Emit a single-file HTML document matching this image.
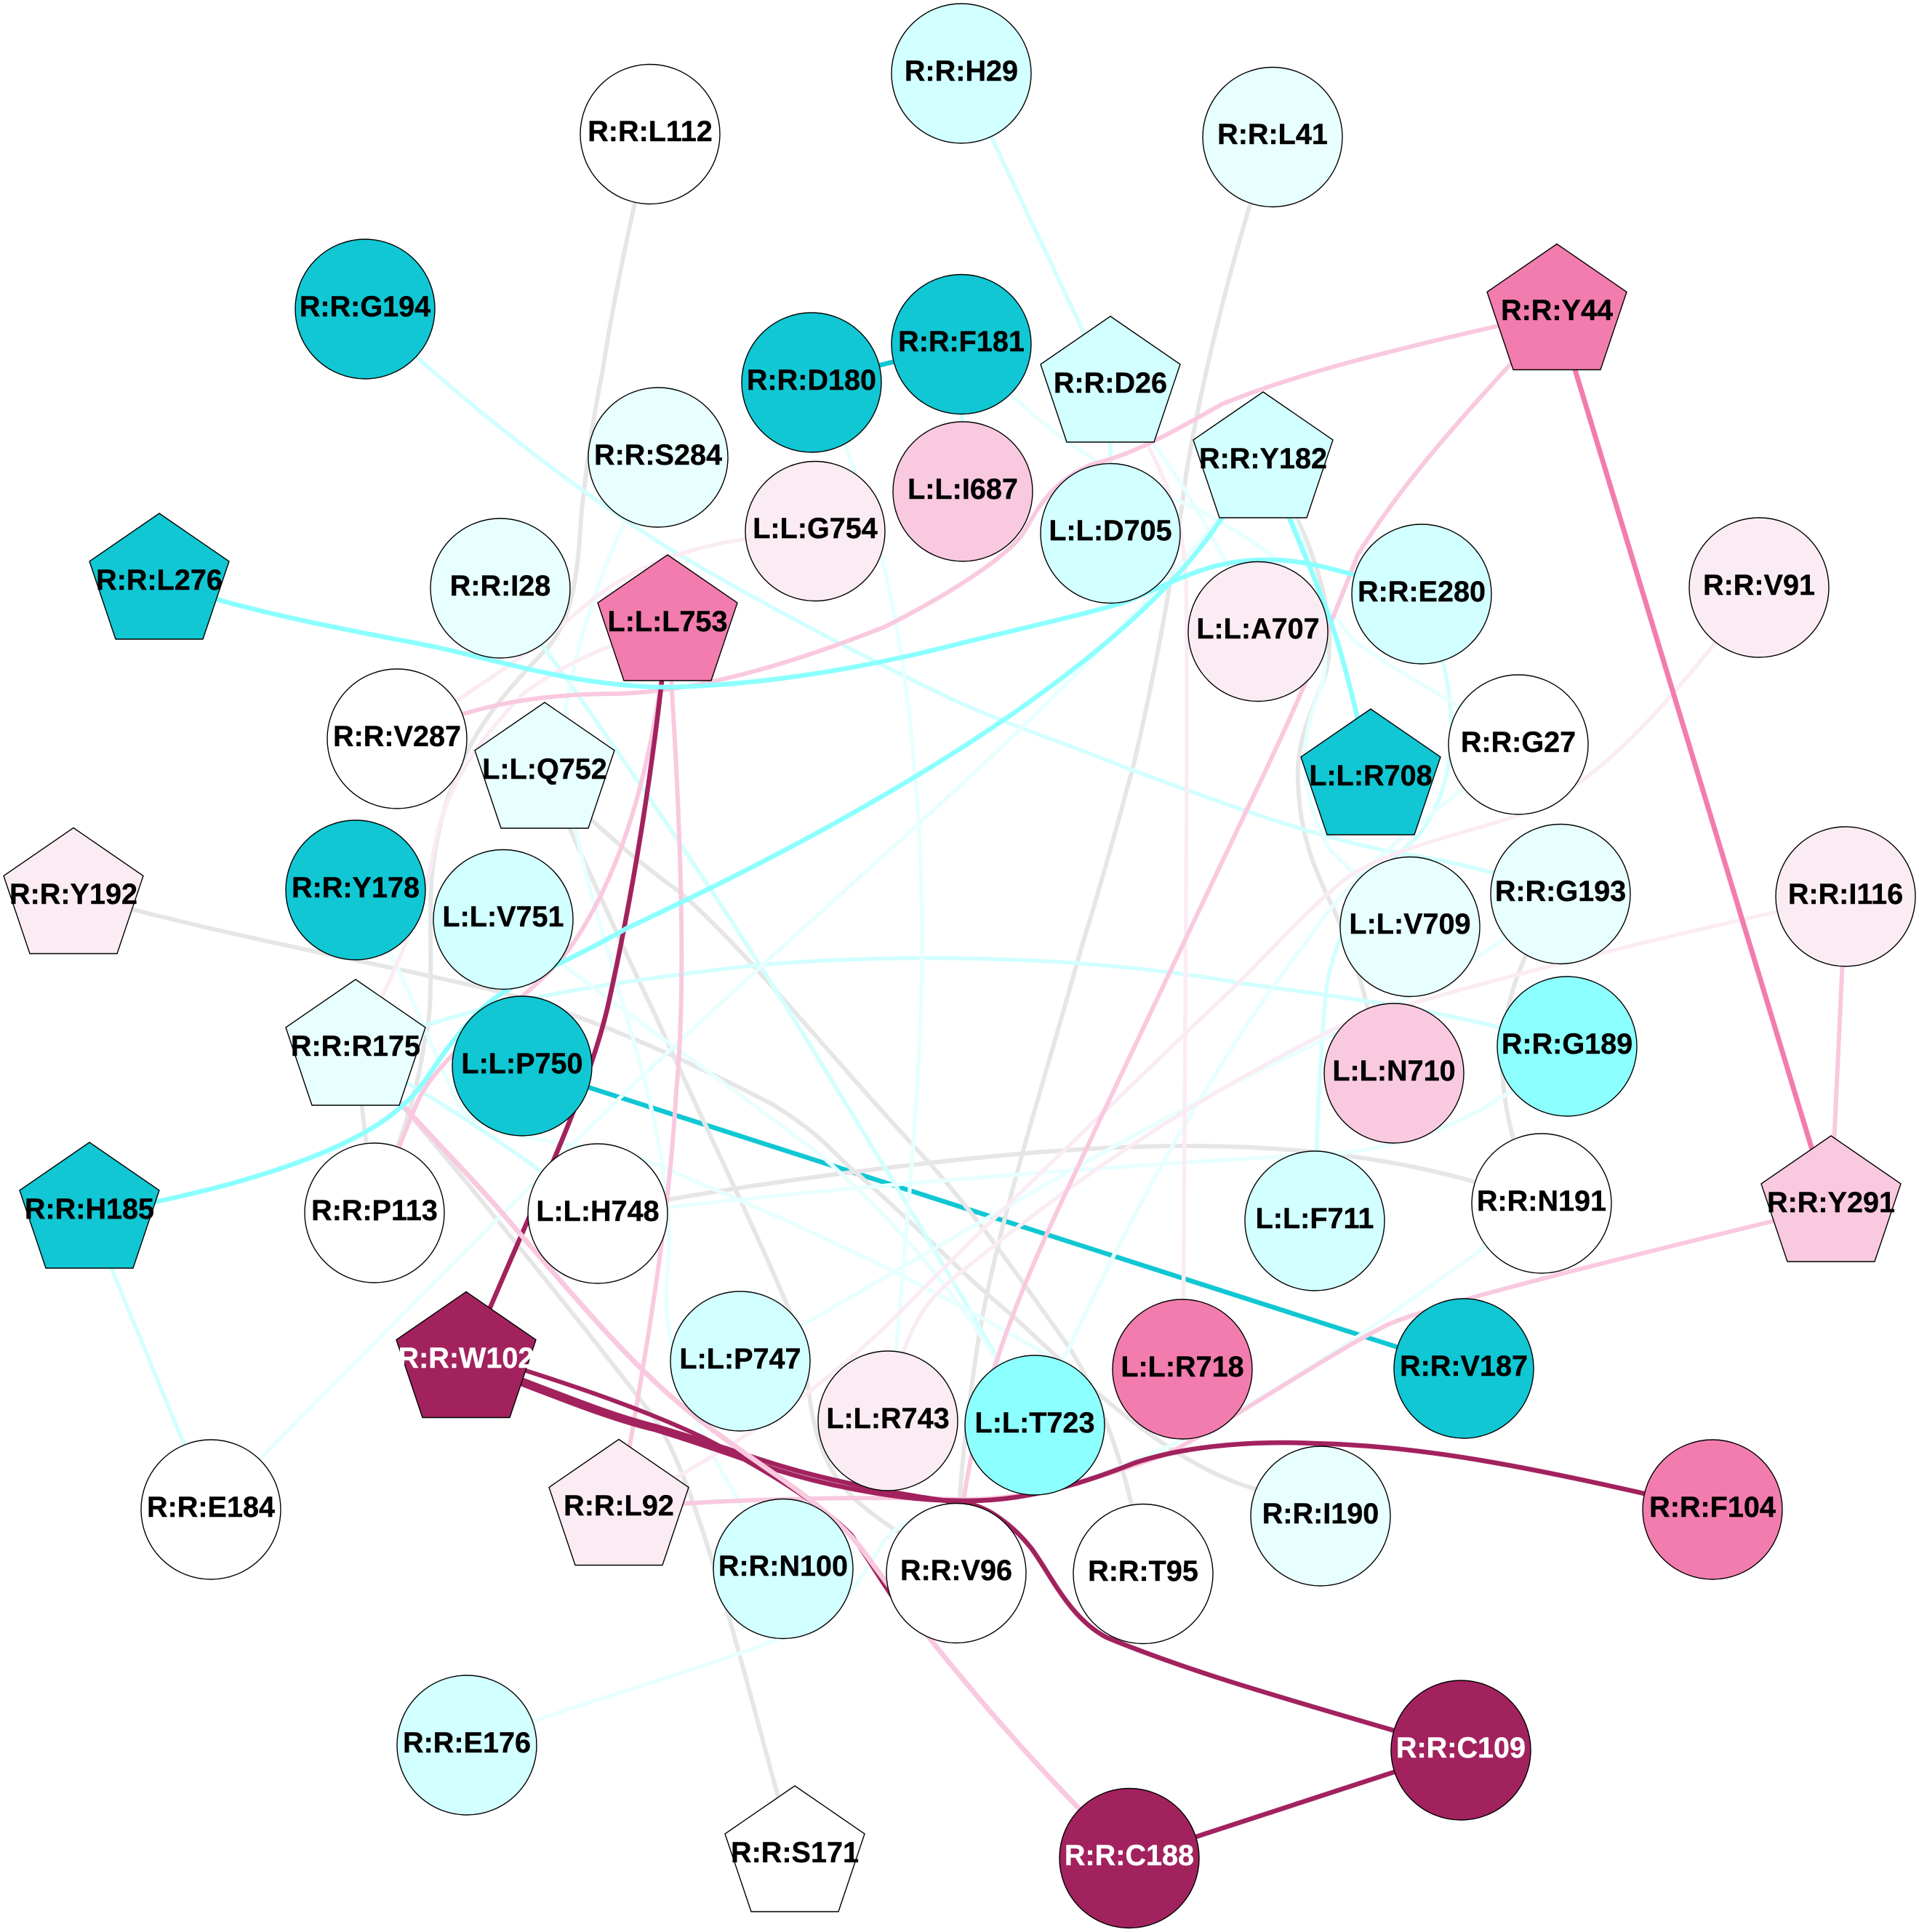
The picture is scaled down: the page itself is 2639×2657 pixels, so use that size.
<!DOCTYPE html>
<html><head><meta charset="utf-8"><style>
html,body{margin:0;padding:0;background:#fff}
svg{display:block}
text{font-family:"Liberation Sans",sans-serif;font-weight:700;font-size:39.6px;text-anchor:middle;fill:#000;stroke:#000;stroke-width:.4}
text.w{fill:#fff;stroke:#fff}
.n{stroke:#000;stroke-width:1.4}
path{fill:none;stroke-linecap:butt}
.gr{stroke:#E6E6E6;stroke-width:6}
.pc{stroke:#E8FFFF;stroke-width:5.5}
.lc{stroke:#D2FFFF;stroke-width:5.5}
.aq{stroke:#8CFFFF;stroke-width:6.5}
.te{stroke:#10C7D3;stroke-width:6.5}
.pp{stroke:#FBECF4;stroke-width:5.5}
.lp{stroke:#F9C9DF;stroke-width:6}
.mp{stroke:#F27CAD;stroke-width:7}
.dk{stroke:#A2225E;stroke-width:6.5}
</style></head><body>
<svg width="2639" height="2657" viewBox="0 0 2639 2657" xmlns="http://www.w3.org/2000/svg">
<rect width="2639" height="2657" fill="#fff"/>
<g>
<path class="te" d="M718,1466L2013,1882"/>
<path class="te" d="M1116,526L1322,474"/>
<path class="gr" d="M894,184C875,270 845,400 829,509C810,600 803,680 800,700C795,780 790,850 752,892C710,935 665,985 640,1039C610,1100 592,1170 592,1250C592,1330 595,1400 583,1436C575,1500 555,1555 515,1668"/>
<path class="gr" d="M1750,188C1710,300 1660,480 1631,653C1615,780 1590,920 1559,1051C1530,1160 1510,1230 1488,1300C1430,1510 1360,1720 1340,1880C1325,1980 1318,2060 1315,2163"/>
<path class="gr" d="M1737,645C1750,670 1770,690 1784,714C1815,780 1838,860 1824,923C1810,970 1782,1010 1785,1075C1787,1150 1810,1200 1834,1250C1855,1300 1870,1340 1880,1383L1917,1476"/>
<path class="gr" d="M822,1669C950,1640 1200,1605 1400,1587C1650,1565 1850,1575 2027,1625L2120,1655"/>
<path class="gr" d="M2146,1229C2080,1330 2040,1430 2085,1580L2120,1655"/>
<path class="gr" d="M101,1229C300,1285 520,1325 666,1359C780,1385 930,1450 1061,1518C1130,1560 1150,1590 1175,1611C1250,1675 1320,1750 1393,1810C1480,1890 1600,2010 1721,2046L1816,2085"/>
<path class="gr" d="M749,1060C800,1120 870,1180 935,1227C1030,1310 1130,1440 1275,1596C1350,1680 1400,1755 1466,1847C1510,1910 1560,2040 1572,2164"/>
<path class="gr" d="M749,1060C770,1110 850,1290 903,1400C960,1530 1030,1670 1089,1810C1120,1880 1100,1950 1150,2032C1180,2075 1220,2095 1315,2163"/>
<path class="gr" d="M489,1448C600,1570 800,1820 900,1950C960,2040 1020,2290 1093,2556"/>
<path class="gr" d="M489,1448L515,1668"/>
<path class="lc" d="M1322,101L1527,535"/>
<path class="lc" d="M1527,535V733"/>
<path class="lc" d="M1322,474L1324,676"/>
<path class="lc" d="M502,425C600,520 760,655 926,758C1030,820 1170,895 1304,959C1380,995 1460,1020 1549,1056C1700,1112 1820,1155 1924,1173C2000,1185 2080,1205 2146,1229"/>
<path class="lc" d="M489,1448C620,1385 800,1355 1043,1327C1250,1310 1500,1315 1706,1352C1850,1372 2000,1390 2155,1439"/>
<path class="lc" d="M123,1671L290,2076"/>
<path class="lc" d="M688,809C780,930 960,1190 1091,1400C1220,1610 1330,1790 1423,1960"/>
<path class="lc" d="M1955,817C2000,930 2020,1060 1950,1150C1880,1210 1830,1290 1823,1370C1815,1460 1810,1570 1808,1679"/>
<path class="lc" d="M489,1448C570,1495 660,1545 822,1669"/>
<path class="pc" d="M642,2400C800,2340 1000,2285 1079,2250C1160,2225 1190,2160 1215,2120C1250,2075 1340,2060 1400,2058C1550,2030 1700,1950 1869,1837C1950,1780 2040,1720 2120,1655"/>
<path class="pc" d="M1116,526C1190,640 1240,830 1258,1061C1266,1150 1268,1230 1268,1300C1268,1480 1245,1700 1232,1860"/>
<path class="pc" d="M905,629C850,720 790,870 775,1000C775,1120 820,1250 858,1386C890,1490 930,1640 918,1750C905,1860 960,1990 1077,2157"/>
<path class="pc" d="M1322,474C1420,580 1500,640 1600,680C1700,720 1800,790 1860,880C1930,930 2010,970 2088,1024"/>
<path class="pc" d="M1527,535C1600,620 1660,710 1730,868"/>
<path class="pc" d="M1737,645C1800,720 1840,880 1815,950C1790,1010 1780,1080 1830,1170L1939,1274"/>
<path class="pc" d="M2088,1024C1990,1110 1880,1170 1800,1290C1700,1420 1560,1640 1423,1960"/>
<path class="pc" d="M2146,1229C2050,1320 1900,1390 1800,1440C1600,1530 1350,1680 1018,1872"/>
<path class="pc" d="M2155,1439C2080,1510 1980,1570 1850,1585C1600,1600 1200,1625 822,1672"/>
<path class="pc" d="M290,2076C500,1860 740,1620 848,1514C1050,1320 1250,1150 1406,1000C1520,890 1620,780 1737,645"/>
<path class="pc" d="M692,1264C800,1350 1000,1490 1129,1589C1220,1670 1320,1770 1423,1960"/>
<path class="pc" d="M489,1224C560,1340 590,1440 634,1525C680,1570 770,1565 891,1596C1060,1670 1240,1740 1500,1900"/>
<path class="pp" d="M489,1448C520,1380 580,1270 598,1162C612,1090 650,1025 720,954C770,915 840,885 918,860"/>
<path class="pp" d="M546,1016C650,950 720,905 790,845C860,785 930,745 1121,730"/>
<path class="pp" d="M1527,535C1570,590 1625,680 1631,790C1634,1000 1630,1300 1627,1883"/>
<path class="pp" d="M2419,808C2300,960 2200,1085 2080,1124C2000,1150 1920,1165 1857,1204C1800,1245 1730,1330 1652,1400C1560,1490 1400,1640 1221,1821C1150,1890 1050,1970 851,2075"/>
<path class="pp" d="M2538,1233C2300,1285 2050,1345 1849,1408C1640,1510 1480,1620 1321,1750C1270,1790 1240,1830 1221,1954"/>
<path class="lp" d="M546,1016C640,975 720,954 850,954C980,950 1120,900 1217,862C1300,820 1380,770 1406,735C1425,705 1440,665 1503,638C1560,625 1620,590 1680,556C1780,515 1900,485 2061,448L2141,430"/>
<path class="lp" d="M2141,433L2078,500C2000,585 1925,670 1867,763C1830,860 1780,980 1714,1115C1650,1250 1590,1375 1512,1541C1430,1720 1330,1900 1315,2163"/>
<path class="lp" d="M851,2075C1000,2060 1200,2058 1320,2062C1400,2062 1470,2048 1604,2000C1700,1950 1830,1860 1910,1821C1970,1795 2200,1737 2518,1660"/>
<path class="lp" d="M2538,1233L2518,1660"/>
<path class="lp" d="M918,860C935,1100 945,1350 930,1500C920,1680 890,1850 851,2075"/>
<path class="lp" d="M918,860C905,1000 870,1190 776,1314C700,1400 620,1430 576,1511C555,1560 540,1600 515,1668"/>
<path class="mp" d="M2143,433L2516,1660"/>
<path class="dk" d="M918,860C900,1050 870,1230 837,1379C810,1500 740,1640 641,1876"/>
<path class="dk" d="M641,1874C760,1919 830,1949 900,1966C1000,1996 1060,2024 1150,2043C1220,2058 1270,2064 1330,2064C1400,2064 1470,2048 1560,2012C1640,1985 1740,1982 1808,1985C1950,1988 2100,2015 2355,2076"/>
<path class="dk" d="M641,1868C760,1913 830,1943 900,1961C1000,1990 1060,2016 1150,2036C1220,2052 1270,2060 1330,2068C1360,2072 1395,2100 1418,2129C1445,2165 1470,2225 1522,2252C1650,2305 1800,2345 2009,2407"/>
<path class="dk" d="M641,1860C760,1895 880,1935 971,1979C1060,2025 1130,2070 1171,2111C1195,2145 1215,2180 1250,2230" style="stroke-width:6"/>
<path class="lp" d="M489,1448C560,1530 640,1610 687,1664C770,1760 860,1870 940,1935C1030,2010 1130,2060 1185,2130C1250,2220 1380,2390 1553,2556" style="stroke-width:7"/>
<path class="dk" d="M2009,2407L1553,2556"/>
<path class="aq" d="M219,800C350,845 500,870 600,890C700,912 800,945 921,945C1060,942 1200,915 1300,890C1400,865 1480,848 1544,829C1620,800 1660,768 1750,770C1800,770 1860,790 1955,817"/>
<path class="aq" d="M1737,640L1679,714C1570,880 1295,1075 863,1276C760,1335 700,1350 660,1390C600,1450 590,1490 555,1519C480,1590 300,1640 123,1670"/>
<path class="aq" d="M1745,645C1780,730 1820,820 1840,885C1855,935 1870,1000 1885,1065"/>
</g>
<g class="n">
<circle cx="1322" cy="101" r="96" fill="#D2FFFF"/>
<circle cx="894" cy="184.5" r="96" fill="#FFFFFF"/>
<circle cx="1750" cy="188.5" r="96" fill="#E8FFFF"/>
<circle cx="502" cy="425" r="96" fill="#10C7D3"/>
<circle cx="1322" cy="473.5" r="96" fill="#10C7D3"/>
<circle cx="1116" cy="526" r="96" fill="#10C7D3"/>
<circle cx="905" cy="629" r="96" fill="#E8FFFF"/>
<circle cx="1324" cy="676" r="96" fill="#F9C9DF"/>
<circle cx="1121" cy="730.5" r="96" fill="#FBECF4"/>
<circle cx="1527" cy="733.5" r="96" fill="#D2FFFF"/>
<circle cx="688" cy="809" r="96" fill="#E8FFFF"/>
<circle cx="2419" cy="808" r="96" fill="#FBECF4"/>
<circle cx="1955" cy="817" r="96" fill="#D2FFFF"/>
<circle cx="1730" cy="868.5" r="96" fill="#FBECF4"/>
<circle cx="546" cy="1016" r="96" fill="#FFFFFF"/>
<circle cx="2088" cy="1024" r="96" fill="#FFFFFF"/>
<circle cx="489" cy="1224" r="96" fill="#10C7D3"/>
<circle cx="2146" cy="1229.5" r="96" fill="#E8FFFF"/>
<circle cx="2538" cy="1233" r="96" fill="#FBECF4"/>
<circle cx="692" cy="1264.5" r="96" fill="#D2FFFF"/>
<circle cx="1939" cy="1274.5" r="96" fill="#E8FFFF"/>
<circle cx="2155" cy="1439" r="96" fill="#8CFFFF"/>
<circle cx="718" cy="1466" r="96" fill="#10C7D3"/>
<circle cx="1917" cy="1476" r="96" fill="#F9C9DF"/>
<circle cx="2120" cy="1655" r="96" fill="#FFFFFF"/>
<circle cx="515" cy="1668" r="96" fill="#FFFFFF"/>
<circle cx="822" cy="1669" r="96" fill="#FFFFFF"/>
<circle cx="1808" cy="1679" r="96" fill="#D2FFFF"/>
<circle cx="1018" cy="1872" r="96" fill="#D2FFFF"/>
<circle cx="2013" cy="1882" r="96" fill="#10C7D3"/>
<circle cx="1626" cy="1883" r="96" fill="#F27CAD"/>
<circle cx="1221" cy="1954" r="96" fill="#FBECF4"/>
<circle cx="1423" cy="1960" r="96" fill="#8CFFFF"/>
<circle cx="290" cy="2076" r="96" fill="#FFFFFF"/>
<circle cx="2355" cy="2076" r="96" fill="#F27CAD"/>
<circle cx="1816" cy="2085" r="96" fill="#E8FFFF"/>
<circle cx="1077" cy="2157.5" r="96" fill="#D2FFFF"/>
<circle cx="1315" cy="2163.5" r="96" fill="#FFFFFF"/>
<circle cx="1572" cy="2164.5" r="96" fill="#FFFFFF"/>
<circle cx="642" cy="2400" r="96" fill="#D2FFFF"/>
<circle cx="2009" cy="2407" r="96" fill="#A2225E"/>
<circle cx="1553" cy="2555.5" r="96" fill="#A2225E"/>
<polygon transform="translate(219,706)" points="0,0 96,66 60,173 -60,173 -96,66" fill="#10C7D3"/>
<polygon transform="translate(918,763)" points="0,0 96,66 60,173 -60,173 -96,66" fill="#F27CAD"/>
<polygon transform="translate(749,966)" points="0,0 96,66 60,173 -60,173 -96,66" fill="#E8FFFF"/>
<polygon transform="translate(101,1138.5)" points="0,0 96,66 60,173 -60,173 -96,66" fill="#FBECF4"/>
<polygon transform="translate(489,1347)" points="0,0 96,66 60,173 -60,173 -96,66" fill="#E8FFFF"/>
<polygon transform="translate(123,1571)" points="0,0 96,66 60,173 -60,173 -96,66" fill="#10C7D3"/>
<polygon transform="translate(641,1776.5)" points="0,0 96,66 60,173 -60,173 -96,66" fill="#A2225E"/>
<polygon transform="translate(851,1979.5)" points="0,0 96,66 60,173 -60,173 -96,66" fill="#FBECF4"/>
<polygon transform="translate(1093,2456)" points="0,0 96,66 60,173 -60,173 -96,66" fill="#FFFFFF"/>
<polygon transform="translate(1527,435)" points="0,0 96,66 60,173 -60,173 -96,66" fill="#D2FFFF"/>
<polygon transform="translate(1737,539)" points="0,0 96,66 60,173 -60,173 -96,66" fill="#D2FFFF"/>
<polygon transform="translate(2141,335.5)" points="0,0 96,66 60,173 -60,173 -96,66" fill="#F27CAD"/>
<polygon transform="translate(1885,975)" points="0,0 96,66 60,173 -60,173 -96,66" fill="#10C7D3"/>
<polygon transform="translate(2518,1562)" points="0,0 96,66 60,173 -60,173 -96,66" fill="#F9C9DF"/>
</g>
<g>
<text x="1322" y="111">R:R:H29</text>
<text x="894" y="194">R:R:L112</text>
<text x="1750" y="198">R:R:L41</text>
<text x="502" y="435">R:R:G194</text>
<text x="1322" y="483">R:R:F181</text>
<text x="1116" y="536">R:R:D180</text>
<text x="905" y="639">R:R:S284</text>
<text x="1324" y="686">L:L:I687</text>
<text x="1121" y="740">L:L:G754</text>
<text x="1527" y="743">L:L:D705</text>
<text x="688" y="819">R:R:I28</text>
<text x="2419" y="818">R:R:V91</text>
<text x="1955" y="827">R:R:E280</text>
<text x="1730" y="878">L:L:A707</text>
<text x="546" y="1026">R:R:V287</text>
<text x="2088" y="1034">R:R:G27</text>
<text x="489" y="1234">R:R:Y178</text>
<text x="2146" y="1239">R:R:G193</text>
<text x="2538" y="1243">R:R:I116</text>
<text x="692" y="1274">L:L:V751</text>
<text x="1939" y="1284">L:L:V709</text>
<text x="2155" y="1449">R:R:G189</text>
<text x="718" y="1476">L:L:P750</text>
<text x="1917" y="1486">L:L:N710</text>
<text x="2120" y="1665">R:R:N191</text>
<text x="515" y="1678">R:R:P113</text>
<text x="822" y="1679">L:L:H748</text>
<text x="1808" y="1689">L:L:F711</text>
<text x="1018" y="1882">L:L:P747</text>
<text x="2013" y="1892">R:R:V187</text>
<text x="1626" y="1893">L:L:R718</text>
<text x="1221" y="1964">L:L:R743</text>
<text x="1423" y="1970">L:L:T723</text>
<text x="290" y="2086">R:R:E184</text>
<text x="2355" y="2086">R:R:F104</text>
<text x="1816" y="2095">R:R:I190</text>
<text x="1077" y="2167">R:R:N100</text>
<text x="1315" y="2173">R:R:V96</text>
<text x="1572" y="2174">R:R:T95</text>
<text x="642" y="2410">R:R:E176</text>
<text class="w" x="2009" y="2417">R:R:C109</text>
<text class="w" x="1553" y="2565">R:R:C188</text>
<text x="219" y="811">R:R:L276</text>
<text x="918" y="868">L:L:L753</text>
<text x="749" y="1071">L:L:Q752</text>
<text x="101" y="1243">R:R:Y192</text>
<text x="489" y="1452">R:R:R175</text>
<text x="123" y="1676">R:R:H185</text>
<text class="w" x="641" y="1881">R:R:W102</text>
<text x="851" y="2084">R:R:L92</text>
<text x="1093" y="2561">R:R:S171</text>
<text x="1527" y="540">R:R:D26</text>
<text x="1737" y="644">R:R:Y182</text>
<text x="2141" y="440">R:R:Y44</text>
<text x="1885" y="1080">L:L:R708</text>
<text x="2518" y="1667">R:R:Y291</text>
</g>
</svg>
</body></html>
